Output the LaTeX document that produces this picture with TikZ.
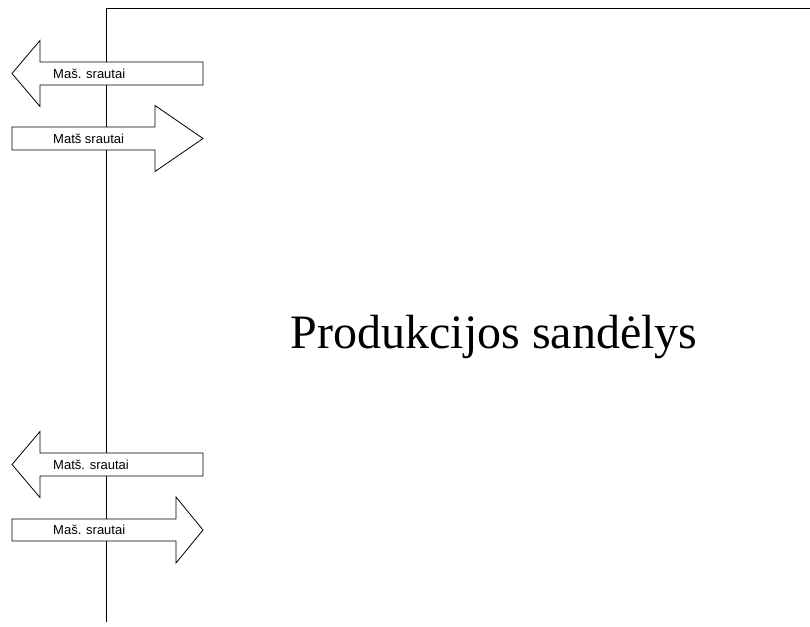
\documentclass[tikz,border=0pt]{standalone}
\usepackage{fontspec}
\setmainfont{Liberation Serif}
\newfontfamily\flowfont{Liberation Sans}
\usetikzlibrary{positioning}

\begin{document}
\begin{tikzpicture}[
  x=1pt, y=-1pt,
  flow arrow/.style={draw=black, fill=white, line width=0.8pt, line join=miter},
  flow label/.style={anchor=west, inner sep=0pt, font=\flowfont\fontsize{13}{15}\selectfont},
]
\useasboundingbox (0,0) rectangle (810,626);

%% Warehouse wall and roof line
\coordinate (wallbase) at (106,622);
\coordinate (corner) at (106,8);
\coordinate (roofend) at (810,8);
\draw[line width=0.8pt] (wallbase) -- (corner) -- (roofend);

%% ---- Flows at the top ----

% outgoing (pointing left)
\draw[flow arrow] (12,73.5) -- (40,40.5) -- (40,62) -- (203,62)
  -- (203,85) -- (40,85) -- (40,106.5) -- cycle;
\node[flow label] (outtop) at (53,73.5) {Maš. srautai};

% incoming (pointing right)
\draw[flow arrow] (203,138.5) -- (155,105.5) -- (155,127) -- (12,127)
  -- (12,150) -- (155,150) -- (155,171.5) -- cycle;
\node[flow label] (intop) at (53,138.5) {Matš srautai};

%% ---- Flows at the bottom ----

% outgoing (pointing left)
\draw[flow arrow] (12,464.5) -- (40,431.5) -- (40,453) -- (203,453)
  -- (203,476) -- (40,476) -- (40,497.5) -- cycle;
\node[flow label] (outbottom) at (53,464.5) {Matš. srautai};

% incoming (pointing right)
\draw[flow arrow] (203,530) -- (176,497) -- (176,519) -- (12,519)
  -- (12,541) -- (176,541) -- (176,563) -- cycle;
\node[flow label] (inbottom) at (53,530) {Maš. srautai};

%% Title inside the warehouse
\node[anchor=base, inner sep=0pt, font=\fontsize{48}{56}\selectfont]
  (title) at (494,348) {Produkcijos sandėlys};

\end{tikzpicture}
\end{document}
